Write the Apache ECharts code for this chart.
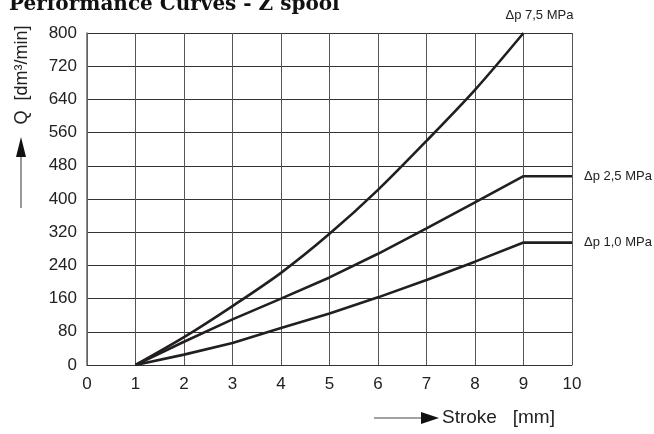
<!DOCTYPE html>
<html>
<head>
<meta charset="utf-8">
<script src="https://cdn.jsdelivr.net/npm/echarts@6/dist/echarts.min.js"></script>
<style>
  html, body { margin: 0; padding: 0; background: #fff; }
  #chart { width: 654px; height: 434px; }
</style>
</head>
<body>
<div id="chart"></div>
<script>
// stroke positions [mm]
const stroke = [1, 2, 3, 4, 5, 6, 7, 8, 9, 10]
// flow Q [dm3/min] per pressure drop
const q75 = [0, 67, 142, 222, 316, 422, 540, 663, 800]
const q25 = [0, 56, 110, 160, 211, 268, 329, 392, 455, 455]
const q10 = [0, 25, 53, 89, 124, 163, 205, 249, 295, 295]
const seriesNames = ['Δp 7,5 MPa', 'Δp 2,5 MPa', 'Δp 1,0 MPa']

const chart = echarts.init(document.getElementById('chart'))

function pairs(vals) {
  let out = []
  for (let i = 0; i < vals.length; i++) {
    out.push([stroke[i], vals[i]])
  }
  return out
}

const lineColor = '#231f20'
const labelFont = 'Liberation Sans'

chart.setOption({
  animation: false,
  grid: {
    left: 87,
    right: 82,
    top: 33,
    bottom: 69
  },
  xAxis: {
    type: 'value',
    min: 0,
    max: 10,
    interval: 1,
    axisLine: { lineStyle: { color: '#333', width: 1 } },
    axisTick: { show: false },
    axisLabel: { color: '#222', fontSize: 17, fontFamily: labelFont, margin: 11 },
    splitLine: { lineStyle: { color: '#555', width: 1 } }
  },
  yAxis: {
    type: 'value',
    min: 0,
    max: 800,
    interval: 80,
    axisLine: { show: true, lineStyle: { color: '#666', width: 1.5 } },
    axisTick: { show: false },
    axisLabel: { color: '#222', fontSize: 17, fontFamily: labelFont, margin: 10 },
    splitLine: { lineStyle: { color: '#333', width: 1 } }
  },
  series: [
    {
      name: seriesNames[0],
      type: 'line',
      data: pairs(q75),
      smooth: 0.3,
      showSymbol: false,
      lineStyle: { color: lineColor, width: 2.6 },
      endLabel: {
        show: true,
        formatter: seriesNames[0],
        color: '#222',
        fontSize: 13,
        fontFamily: labelFont,
        offset: [-26, -18]
      }
    },
    {
      name: seriesNames[1],
      type: 'line',
      data: pairs(q25),
      showSymbol: false,
      lineStyle: { color: lineColor, width: 2.6 },
      endLabel: {
        show: true,
        formatter: seriesNames[1],
        color: '#222',
        fontSize: 13,
        fontFamily: labelFont,
        distance: 12
      }
    },
    {
      name: seriesNames[2],
      type: 'line',
      data: pairs(q10),
      showSymbol: false,
      lineStyle: { color: lineColor, width: 2.6 },
      endLabel: {
        show: true,
        formatter: seriesNames[2],
        color: '#222',
        fontSize: 13,
        fontFamily: labelFont,
        distance: 12
      }
    }
  ],
  graphic: [
    {
      type: 'text',
      x: 9,
      y: 15,
      style: {
        text: 'Performance Curves - Z spool',
        font: 'bold 20px "DejaVu Serif"',
        fill: '#111',
        verticalAlign: 'bottom'
      }
    },
    // y axis name + arrow
    {
      type: 'text',
      x: 22,
      y: 75,
      rotation: Math.PI / 2,
      style: {
        text: 'Q  [dm³/min]',
        font: '18px "Liberation Sans"',
        fill: '#222',
        align: 'center',
        verticalAlign: 'middle'
      }
    },
    {
      type: 'line',
      shape: { x1: 21, y1: 208, x2: 21, y2: 150 },
      style: { stroke: '#777', lineWidth: 1.5 }
    },
    {
      type: 'polygon',
      shape: { points: [[21, 137], [16, 157], [26, 157]] },
      style: { fill: '#111' }
    },
    // x axis name + arrow
    {
      type: 'line',
      shape: { x1: 374, y1: 418, x2: 425, y2: 418 },
      style: { stroke: '#444', lineWidth: 1 }
    },
    {
      type: 'polygon',
      shape: { points: [[439, 418], [421, 412], [421, 424]] },
      style: { fill: '#111' }
    },
    {
      type: 'text',
      x: 442,
      y: 418,
      style: {
        text: 'Stroke   [mm]',
        font: '19px "Liberation Sans"',
        fill: '#222',
        verticalAlign: 'middle'
      }
    }
  ]
})
</script>
</body>
</html>
